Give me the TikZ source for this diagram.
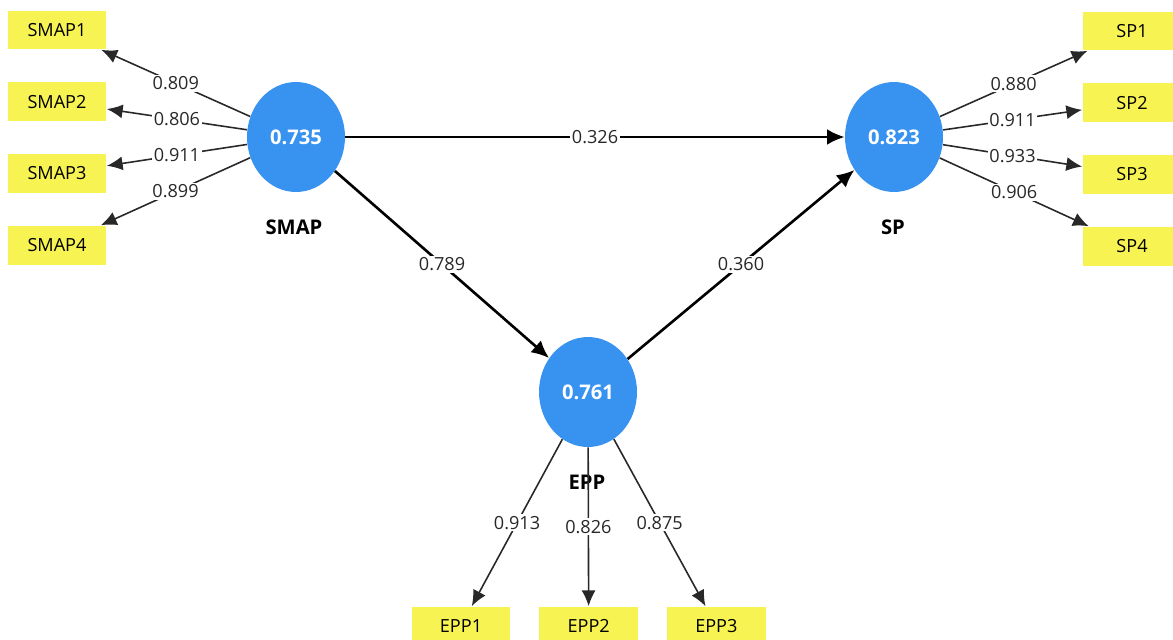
\documentclass[tikz,border=0pt]{standalone}
\usepackage{fontspec}
\setmainfont{Open Sans}
\definecolor{latentblue}{RGB}{56,146,240}
\definecolor{itemyellow}{RGB}{247,243,82}
\definecolor{loadgray}{RGB}{40,40,40}
\usetikzlibrary{arrows.meta,positioning,shapes.geometric}

\begin{document}
\begin{tikzpicture}[x=0.02cm, y=-0.02cm,
    latent/.style={ellipse, fill=latentblue, minimum width=1.96cm, minimum height=2.2cm, inner sep=0pt, text=white, font=\bfseries\fontsize{11.5}{13}\selectfont},
    item/.style={fill=itemyellow, minimum width=1.98cm, minimum height=0.78cm, inner sep=0pt, font=\fontsize{10.3}{12}\selectfont},
    latname/.style={font=\bfseries\fontsize{11.5}{13}\selectfont},
    coef/.style={fill=white, inner sep=1pt, text=loadgray, font=\fontsize{10.3}{12}\selectfont},
    strpath/.style={-{Latex[length=10pt,width=9pt]}, line width=1.5pt},
    load/.style={-{Latex[length=9pt,width=8pt]}, line width=0.9pt, loadgray}]
    \useasboundingbox (0,0) rectangle (1173,639);
    \clip (0,0) rectangle (1173,639);

    % Latent variables
    \node[latent] (smap) at (296,137) {0.735};
    \node[latent] (sp) at (894,137) {0.823};
    \node[latent] (epp) at (588,392) {0.761};
    \node[latname] (smapname) at (294,227) {SMAP};
    \node[latname] (spname) at (893,227) {SP};
    \node[latname] (eppname) at (587,482) {EPP};

    % Indicators
    \node[item] (smap1) at (57,30) {SMAP1};
    \node[item, below=0.64cm of smap1] (smap2) {SMAP2};
    \node[item, below=0.64cm of smap2] (smap3) {SMAP3};
    \node[item, below=0.64cm of smap3] (smap4) {SMAP4};
    \node[item] (sp1) at (1132,31) {SP1};
    \node[item, below=0.64cm of sp1] (sp2) {SP2};
    \node[item, below=0.64cm of sp2] (sp3) {SP3};
    \node[item, below=0.64cm of sp3] (sp4) {SP4};
    \node[item] (epp1) at (461,626) {EPP1};
    \node[item, right=0.56cm of epp1] (epp2) {EPP2};
    \node[item, right=0.56cm of epp2] (epp3) {EPP3};

    % Structural paths
    \draw[strpath] (smap) -- node[coef] {0.326} (sp);
    \draw[strpath] (smap) -- node[coef] {0.789} (epp);
    \draw[strpath] (epp) -- node[coef] {0.360} (sp);

    % Outer loadings
    \draw[load] (smap) -- node[coef] {0.809} (smap1);
    \draw[load] (smap) -- node[coef] {0.806} (smap2);
    \draw[load] (smap) -- node[coef] {0.911} (smap3);
    \draw[load] (smap) -- node[coef] {0.899} (smap4);
    \draw[load] (sp) -- node[coef] {0.880} (sp1);
    \draw[load] (sp) -- node[coef] {0.911} (sp2);
    \draw[load] (sp) -- node[coef] {0.933} (sp3);
    \draw[load] (sp) -- node[coef] {0.906} (sp4);
    \draw[load] (epp) -- node[coef] {0.913} (epp1);
    \draw[load] (epp) -- node[coef] {0.826} (epp2);
    \draw[load] (epp) -- node[coef] {0.875} (epp3);
\end{tikzpicture}
\end{document}
